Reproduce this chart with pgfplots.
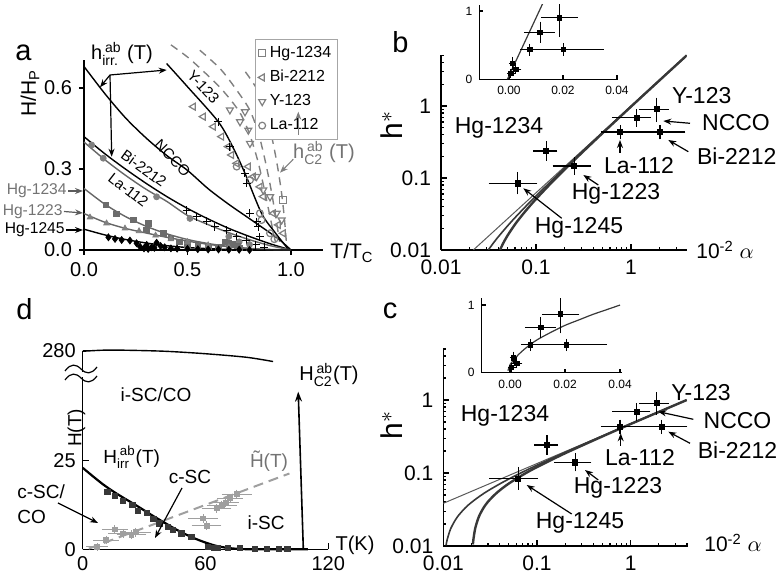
\documentclass[border=0pt]{standalone}
\usepackage{fontspec}
\setmainfont{Liberation Sans}
\usepackage{amsmath}
\usepackage{pgfplots}
\pgfplotsset{compat=1.18}
\usetikzlibrary{arrows.meta}

\definecolor{gt}{gray}{0.45}
\definecolor{gm}{gray}{0.5}
\definecolor{dk}{gray}{0.22}
\newcommand{\fs}[1]{\fontsize{#1}{#1}\selectfont}

\pgfplotsset{
  panel/.style={scale only axis, anchor=south west,
    axis x line*=bottom, axis y line*=left,
    axis line style={-, line width=0.7pt},
    tick style={black, line width=0.6pt},
    /pgf/number format/assume math mode=true,
    tick label style={font=\fs{10}},
    scaled ticks=false},
  logpanel/.style={panel, xmin=0.01, ymin=0.01, ymax=5.1,
    tick align=inside, major tick length=3pt, minor tick length=1.6pt,
    xtick={0.01,0.1,1}, xticklabels={0.01,0.1,1},
    ytick={0.01,0.1,1}, yticklabels={0.01,0.1,1},
    minor xtick={0.02,0.03,0.04,0.05,0.06,0.07,0.08,0.09,0.2,0.3,0.4,0.5,0.6,0.7,0.8,0.9,2,3,4},
    minor ytick={0.02,0.03,0.04,0.05,0.06,0.07,0.08,0.09,0.2,0.3,0.4,0.5,0.6,0.7,0.8,0.9,2,3,4,5},
    tick label style={font=\fs{10.5}},
    xticklabel style={yshift=-1.5pt}, yticklabel style={xshift=-1.5pt}},
  inset/.style={panel, tick align=inside, major tick length=2pt,
    tick label style={font=\fs{6}}, ytick={0,1}, xtick={0,0.02,0.04},
    xticklabels={0.00,0.02,0.04}, ymin=0},
  ebar/.style={only marks, mark=square*, mark size=1.3pt, black,
    error bars/x dir=both, error bars/x explicit, error bars/y dir=both, error bars/y explicit,
    error bars/error bar style={line width=0.6pt, black},
    error bars/error mark options={black, mark size=2pt, line width=0.6pt}},
}
\tikzset{ar/.style={-{Stealth[length=4pt,width=3pt]}, line width=0.6pt}}

\begin{document}
\begin{tikzpicture}
\useasboundingbox (0,0) rectangle (391pt,291pt);

% ---------------- panel a ----------------
\begin{axis}[panel, at={(42pt,166pt)}, width=119.5pt, height=95pt,
  xmin=0, xmax=1.155, ymin=0, ymax=0.704, clip=false,
  xtick={0,0.5,1}, xticklabels={0.0,0.5,1.0},
  ytick={0,0.3,0.6}, yticklabels={0.0,0.3,0.6},
  tick align=outside, major tick length=2.5pt,
  legend style={at={(0.7155,1.1105)}, anchor=north west, draw=gray!70, line width=0.6pt,
    font=\fs{8}, inner sep=1.3pt, row sep=0.9pt},
  legend cell align=left,
  legend image code/.code={\draw[#1,mark repeat=1] plot coordinates {(0.12cm,0cm)};}]
% hc2 dashed curves
\addplot[gm, line width=0.7pt, dash pattern=on 4pt off 3pt, smooth, forget plot] coordinates {
 (0.42,0.76) (0.50,0.715) (0.58,0.66) (0.66,0.60) (0.72,0.545) (0.76,0.50) (0.80,0.43)
 (0.84,0.33) (0.87,0.23) (0.90,0.12) (0.925,0.03)};
\addplot[gm, line width=0.7pt, dash pattern=on 4pt off 3pt, smooth, forget plot] coordinates {
 (0.56,0.74) (0.66,0.67) (0.74,0.59) (0.80,0.52) (0.84,0.44) (0.87,0.35) (0.90,0.24)
 (0.925,0.13) (0.945,0.03)};
\addplot[gm, line width=0.7pt, dash pattern=on 4pt off 3pt, smooth, forget plot] coordinates {
 (0.78,0.66) (0.84,0.59) (0.88,0.50) (0.91,0.41) (0.935,0.31) (0.955,0.21) (0.968,0.12) (0.978,0.03)};
% hc2 data
\addplot[only marks, mark=square, gm, mark size=1.8pt, line width=0.6pt] coordinates {(0.963,0.185)};
\addlegendentry{Hg-1234}
\addplot[only marks, mark=triangle, mark options={rotate=90}, gm, mark size=2pt, line width=0.6pt] coordinates {
 (0.528,0.531) (0.576,0.494) (0.625,0.457) (0.665,0.42) (0.697,0.383) (0.713,0.352) (0.738,0.321)
 (0.794,0.309) (0.818,0.272) (0.85,0.234) (0.866,0.198) (0.915,0.136) (0.939,0.093) (0.963,0.062)};
\addlegendentry{Bi-2212}
\addplot[only marks, mark=triangle, mark options={rotate=180}, gm, mark size=2pt, line width=0.6pt] coordinates {
 (0.705,0.519) (0.778,0.512) (0.754,0.475) (0.794,0.444) (0.802,0.395) (0.834,0.272)
 (0.866,0.222) (0.899,0.197) (0.931,0.136) (0.955,0.111)};
\addlegendentry{Y-123}
\addplot[only marks, mark=o, gm, mark size=1.7pt, line width=0.6pt] coordinates {
 (0.738,0.309) (0.802,0.259) (0.85,0.136) (0.858,0.111) (0.899,0.062) (0.92,0.04)};
\addlegendentry{La-112}
% hirr curves
\addplot[black, line width=0.7pt, smooth, forget plot] coordinates {
 (0.399,0.691) (0.5,0.605) (0.649,0.475) (0.72,0.38) (0.778,0.284) (0.858,0.136) (0.92,0.068) (0.99,0.0)};
\addplot[black, line width=0.7pt, smooth, forget plot] coordinates {
 (0,0.68) (0.1,0.58) (0.2,0.49) (0.3,0.415) (0.4,0.35) (0.5,0.295) (0.6,0.227) (0.7,0.169)
 (0.8,0.116) (0.9,0.063) (0.947,0.037) (1.0,0.0)};
\addplot[black, line width=0.7pt, smooth, forget plot] coordinates {
 (0,0.42) (0.1,0.357) (0.2,0.30) (0.3,0.247) (0.4,0.198) (0.5,0.154) (0.6,0.115) (0.7,0.080)
 (0.8,0.050) (0.9,0.023) (1,0)};
\addplot[gm!80!black, line width=0.7pt, smooth, forget plot] coordinates {
 (0,0.40) (0.1,0.335) (0.2,0.277) (0.3,0.225) (0.4,0.180) (0.5,0.128) (0.6,0.094) (0.7,0.064)
 (0.8,0.038) (0.9,0.016) (1,0)};
\addplot[gm!80!black, line width=0.7pt, smooth, forget plot] coordinates {
 (0,0.228) (0.1,0.170) (0.2,0.124) (0.3,0.088) (0.4,0.060) (0.5,0.039) (0.6,0.024) (0.7,0.013)
 (0.8,0.006) (0.9,0.002) (1,0)};
\addplot[gm!80!black, line width=0.7pt, smooth, forget plot] coordinates {
 (0,0.135) (0.1,0.103) (0.2,0.080) (0.3,0.063) (0.4,0.047) (0.5,0.033) (0.6,0.021) (0.7,0.012)
 (0.8,0.005) (0.9,0.001) (1,0)};
\addplot[black, line width=0.7pt, smooth, forget plot] coordinates {
 (0,0.077) (0.1,0.056) (0.2,0.039) (0.3,0.026) (0.4,0.016) (0.5,0.009) (0.6,0.005) (0.7,0.002)
 (0.85,0.0) (1.0,0)};
% hirr data
\addplot[only marks, mark=+, black, mark size=2pt, line width=0.5pt, forget plot] coordinates {
 (0.649,0.475) (0.705,0.383) (0.778,0.284) (0.786,0.247) (0.802,0.136) (0.834,0.105) (0.842,0.086)
 (0.85,0.049) (0.496,0.148) (0.544,0.123) (0.593,0.106) (0.633,0.086) (0.689,0.074) (0.737,0.049)
 (0.785,0.037) (0.83,0.02) (0.87,0.01)};
\addplot[only marks, mark=*, gm, mark size=1.5pt, forget plot] coordinates {
 (0.037,0.389) (0.093,0.34) (0.351,0.197) (0.512,0.117) (0.70,0.05) (0.75,0.03) (0.80,0.02)};
\addplot[only marks, mark=square*, gm!85!black, mark size=1.4pt, forget plot] coordinates {
 (0.106,0.167) (0.158,0.133) (0.238,0.111) (0.311,0.099) (0.303,0.074) (0.383,0.062) (0.42,0.045)
 (0.46,0.03) (0.5,0.02) (0.55,0.015) (0.6,0.012) (0.65,0.01) (0.68,0.03) (0.70,0.025) (0.72,0.02)
 (0.74,0.015) (0.70,0.01) (0.75,0.008)};
\addplot[only marks, mark=triangle*, gm, mark size=1.6pt, forget plot] coordinates {
 (0.029,0.121) (0.109,0.099) (0.198,0.080) (0.266,0.070) (0.346,0.054) (0.42,0.04) (0.5,0.03)
 (0.6,0.018) (0.7,0.01) (0.8,0.005)};
\addplot[only marks, mark=diamond*, black, mark size=1.7pt, forget plot] coordinates {
 (0.118,0.047) (0.150,0.041) (0.182,0.037) (0.222,0.035) (0.254,0.025) (0.271,0.012) (0.303,0.019)
 (0.327,0.01) (0.351,0.027) (0.37,0.015) (0.29,0.006) (0.31,0.004) (0.34,0.008) (0.39,0.01)
 (0.42,0.006) (0.45,0.005) (0.5,0.004) (0.55,0.003) (0.6,0.002) (0.65,0.002) (0.7,0.001)
 (0.75,0.001) (0.8,0.0)};
\end{axis}

% ---------------- panel b ----------------
\begin{loglogaxis}[logpanel, at={(220.5pt,166pt)}, width=122.85pt, height=97.5pt, xmax=3.86]
\addplot[gray!70!black, line width=0.5pt] coordinates {(0.0219,0.01) (3.86,5.05)};
\addplot[dk, line width=0.8pt, smooth] coordinates {
 (0.0315,0.01) (0.033,0.0109) (0.036,0.01273) (0.04,0.01519) (0.05,0.02148) (0.06,0.02802)
 (0.08,0.04173) (0.1,0.0562) (0.15,0.0949) (0.25,0.1804) (0.5,0.4236) (1,0.9847) (2,2.278) (3.86,5.038)};
\addplot[dk, line width=1.2pt, smooth] coordinates {
 (0.0418,0.01) (0.045,0.0123) (0.05,0.01575) (0.06,0.02257) (0.07,0.0294) (0.08,0.03645)
 (0.1,0.0509) (0.15,0.0895) (0.25,0.1746) (0.5,0.4171) (1,0.9774) (2,2.270) (3.86,5.028)};
\addplot[ebar] coordinates {
 (0.064,0.084) += (0.030,0.023) -= (0.029,0.017)
 (0.128,0.237) += (0.024,0.046) -= (0.025,0.039)
 (0.253,0.147) += (0.089,0.026) -= (0.088,0.021)
 (0.77,0.436) += (0.25,0.044) -= (0.24,0.046)
 (2.02,0.436) += (1.38,0.045) -= (1.0,0.045)
 (1.15,0.69) += (0.31,0.10) -= (0.455,0.11)
 (1.86,0.90) += (0.42,0.25) -= (0.53,0.22)};
\end{loglogaxis}

% inset b
\begin{axis}[inset, at={(239.65pt,251.35pt)}, width=69.5pt, height=37.15pt,
  xmin=-0.011, xmax=0.0405, ymax=1.088]
\addplot[dk, line width=0.6pt] coordinates {(-0.0006,0) (0.0125,1.11)};
\addplot[ebar, mark size=1.1pt, error bars/error mark options={black, mark size=1.5pt, line width=0.5pt},
  error bars/error bar style={line width=0.5pt,black}] coordinates {
 (0.00064,0.084) += (0.0003,0.023) -= (0.0003,0.017)
 (0.00128,0.237) += (0.00024,0.046) -= (0.00025,0.039)
 (0.00253,0.147) += (0.0009,0.026) -= (0.0009,0.021)
 (0.0077,0.436) += (0.0025,0.044) -= (0.0024,0.046)
 (0.0202,0.436) += (0.0138,0.045) -= (0.0100,0.045)
 (0.0115,0.69) += (0.0043,0.11) -= (0.0047,0.11)
 (0.0186,0.90) += (0.0058,0.19) -= (0.0056,0.24)};
\end{axis}

% ---------------- panel c ----------------
\begin{loglogaxis}[logpanel, at={(221.65pt,18pt)}, width=122.2pt, height=98.85pt, xmax=4.06]
\addplot[gray!70!black, line width=0.5pt] coordinates {(0.01,0.0384) (3.96,1.0)};
\addplot[dk, line width=0.8pt, smooth] coordinates {
 (0.0107,0.0102) (0.011,0.0122) (0.012,0.0173) (0.014,0.0246) (0.017,0.0329) (0.02,0.0396)
 (0.025,0.0490) (0.03,0.0571) (0.04,0.0708) (0.05,0.0826) (0.07,0.1027) (0.1,0.1278) (0.2,0.1915)
 (0.5,0.3203) (1,0.471) (2,0.687) (3.96,0.999)};
\addplot[dk, line width=1.2pt, smooth] coordinates {
 (0.0207,0.0105) (0.021,0.01255) (0.022,0.0178) (0.024,0.0253) (0.027,0.0336) (0.03,0.0404)
 (0.035,0.0497) (0.04,0.0578) (0.05,0.0716) (0.07,0.0937) (0.1,0.1205) (0.2,0.1864) (0.5,0.317)
 (1,0.4686) (2,0.6856) (3.96,0.9975)};
\addplot[ebar] coordinates {
 (0.063,0.084) += (0.030,0.023) -= (0.029,0.017)
 (0.128,0.242) += (0.024,0.046) -= (0.025,0.039)
 (0.256,0.140) += (0.089,0.026) -= (0.088,0.021)
 (0.77,0.43) += (0.25,0.044) -= (0.24,0.046)
 (2.14,0.43) += (1.51,0.045) -= (1.12,0.045)
 (1.16,0.69) += (0.31,0.10) -= (0.455,0.11)
 (1.89,0.90) += (0.42,0.23) -= (0.53,0.19)};
\end{loglogaxis}

% inset c
\begin{axis}[inset, at={(240.85pt,104.65pt)}, width=70pt, height=37.2pt,
  xmin=-0.0103, xmax=0.0406, ymax=1.10]
\addplot[dk, line width=0.6pt, smooth] coordinates {
 (-0.0008,0.03) (-0.0003,0.08) (0.0,0.12) (0.001,0.17) (0.002,0.22) (0.003,0.265) (0.005,0.34)
 (0.0075,0.42) (0.01,0.49) (0.015,0.60) (0.02,0.70) (0.025,0.78) (0.03,0.86) (0.035,0.93) (0.04,1.0)};
\addplot[ebar, mark size=1.1pt, error bars/error mark options={black, mark size=1.5pt, line width=0.5pt},
  error bars/error bar style={line width=0.5pt,black}] coordinates {
 (0.0006,0.074) += (0.0003,0.023) -= (0.0003,0.017)
 (0.0013,0.22) += (0.00024,0.046) -= (0.00025,0.039)
 (0.0025,0.14) += (0.0009,0.026) -= (0.0009,0.021)
 (0.0075,0.41) += (0.0025,0.044) -= (0.0024,0.046)
 (0.0204,0.41) += (0.0138,0.045) -= (0.0100,0.045)
 (0.0112,0.67) += (0.0043,0.11) -= (0.0047,0.11)
 (0.0183,0.867) += (0.0058,0.23) -= (0.0056,0.24)};
\end{axis}

% ---------------- panel d ----------------
\begin{axis}[panel, at={(41.35pt,16.35pt)}, width=122.8pt, height=99.2pt,
  xmin=0, xmax=120, ymin=0, ymax=56, clip=false,
  xtick={0,60,120}, ytick={0,25,56}, yticklabels={0,25,280},
  tick align=inside, major tick length=3pt]
\addplot[gm!75, line width=1pt, dash pattern=on 5pt off 3pt] coordinates {(3,0.2) (101,21.4)};
\addplot[only marks, mark=square*, gm!75, mark size=1.2pt,
  error bars/x dir=both, error bars/x explicit, error bars/y dir=both, error bars/y explicit,
  error bars/error bar style={line width=0.5pt, gm!75},
  error bars/error mark options={gm!75, mark size=1.3pt, line width=0.5pt}] coordinates {
 (7,0.7) +- (4,0.4) (11.4,2.6) +- (5,0.5) (15.7,5.6) +- (5,0.5) (19.7,4.5) +- (6,0.5)
 (23.8,4.1) +- (6,0.5) (26,4.8) +- (6,0.5) (58.8,8.7) +- (6,0.5) (60.5,6.7) +- (6,0.5)
 (65.4,11.6) +- (6,0.5) (67.9,12.5) +- (6,0.5) (70,13.2) +- (5,0.5) (72,14.4) +- (5,0.5)
 (75.3,15.6) +- (6,0.5)};
\addplot[black, line width=1.1pt, smooth] coordinates {
 (0,23) (5,20.6) (10,18.3) (15,16.3) (20,14.5) (25,12.8) (30,11.0) (35,9.2) (40,7.5) (45,5.8)
 (50,4.3) (55,3.0) (60,1.9) (65,1.0) (70,0.45) (75,0.15) (80,0.03) (90,0) (100,0) (110,0)};
\addplot[only marks, mark=square*, dk, mark size=1.3pt] coordinates {
 (12.1,16.1) (15.7,15.1) (19.7,13.6) (24.3,12.5) (27.1,10.9) (31.2,10.2) (34.5,8.6) (37.5,7.3)
 (41.6,6.4) (44.1,5.4) (48.2,4.5) (53.1,3.4) (61.3,0.7) (64,0.5) (66,0.4) (71,0.3) (77,0.3)
 (84,0.2) (90,0.1) (96,0.1) (100,0.1)};
\addplot[black, line width=0.7pt, smooth] coordinates {
 (0,55.9) (10,56.2) (20,56.2) (40,55.9) (60,55.2) (80,54.2) (93,53.0)};
\addplot[black, line width=0.8pt, -{Stealth[length=5pt,width=3.5pt]}] coordinates {(107.8,0) (105.3,44.5)};
\end{axis}

% ---------------- annotations (pixel coordinates) ----------------
\begin{scope}[shift={(0pt,291pt)}, x=0.5pt, y=-0.5pt]
% panel letters
\node[font=\fs{14.5}] at (23.5,53) {a};
\node[font=\fs{14.5}] at (400.5,42) {b};
\node[font=\fs{14.5}] at (390,311) {c};
\node[font=\fs{14.5}] at (24.5,309) {d};
% panel a
\node[font=\fs{10.5}, rotate=90] at (30,93) {H/H$_{\text{P}}$};
\node[font=\fs{10.5}] at (352,253) {T/T$_{\text{C}}$};
\node[font=\fs{10}] at (122,54) {h$_{\text{irr.}}^{\,\text{ab}}$ (T)};
\draw[ar] (110,75) -- (100,87.3);
\draw[ar] (110,75) -- (166.7,70);
\draw[ar] (110,75) -- (111.7,156.7);
\node[font=\fs{7.5}, rotate=-47] at (203.3,86.7) {Y-123};
\node[font=\fs{7.5}, rotate=-46] at (172.7,158.3) {NCCO};
\node[font=\fs{7.5}, rotate=-36] at (144,168.3) {Bi-2212};
\node[font=\fs{7.5}, rotate=-38] at (128.3,190) {La-112};
\node[font=\fs{7.8}, text=gt, anchor=east, inner sep=0pt] at (67,191) {Hg-1234};
\draw[ar, gt!80!black] (68,191) -- (83,191);
\node[font=\fs{7.8}, text=gt, anchor=east, inner sep=0pt] at (63,211.5) {Hg-1223};
\draw[ar, gt!80!black] (64,211.5) -- (83,213);
\node[font=\fs{7.8}, anchor=east, inner sep=0pt] at (65,230) {Hg-1245};
\draw[ar] (66,230) -- (83,230);
\node[font=\fs{10}, text=gt] at (324,153) {h$_{\text{C2}}^{\,\text{ab}}$ (T)};
\draw[ar, gm] (298.3,135) -- (298.3,111.7);
\draw[ar, gm] (293.3,159.3) -- (280,172.7);
% panel b
\node[font=\fs{15}, rotate=90] at (392,125) {h$^{*}$};
\node[font=\fs{10.5}] at (725,250) {10\textsuperscript{-2} $\alpha$};
\node[font=\fs{11.5}] at (499,127.5) {Hg-1234};
\node[font=\fs{11.5}] at (616,194) {Hg-1223};
\node[font=\fs{11.5}] at (579,228) {Hg-1245};
\node[font=\fs{11.5}] at (639,166) {La-112};
\node[font=\fs{11.5}] at (736.7,156) {Bi-2212};
\node[font=\fs{11.5}] at (736,123) {NCCO};
\node[font=\fs{11.5}] at (701.7,96) {Y-123};
\draw[ar] (598.3,185) -- (583.3,175);
\draw[ar] (561.7,218.3) -- (523.3,188.3);
\draw[ar] (620,153) -- (620,140);
\draw[ar] (690,123.3) -- (663.3,121);
\draw[ar] (688.3,151.7) -- (668.3,140);
% panel c
\node[font=\fs{15}, rotate=90] at (392,425) {h$^{*}$};
\node[font=\fs{10.5}] at (733,543) {10\textsuperscript{-2} $\alpha$};
\node[font=\fs{11.5}] at (505,416) {Hg-1234};
\node[font=\fs{11.5}] at (618,488) {Hg-1223};
\node[font=\fs{11.5}] at (580,523) {Hg-1245};
\node[font=\fs{11.5}] at (640,458) {La-112};
\node[font=\fs{11.5}] at (737.5,450) {Bi-2212};
\node[font=\fs{11.5}] at (737.5,421) {NCCO};
\node[font=\fs{11.5}] at (701,392.5) {Y-123};
\draw[ar] (598.3,480) -- (585,470);
\draw[ar] (571.7,514) -- (526.7,485);
\draw[ar] (620.7,446) -- (620.7,433.3);
\draw[ar] (693.3,419.3) -- (658.3,411.7);
\draw[ar] (690,443.3) -- (668.3,431.7);
% panel d
\fill[white] (78,372) rectangle (88,377);
\draw[line width=0.6pt] (65,371) .. controls (71,363) and (76,364) .. (81,369) .. controls (86,374) and (91,375) .. (97,367);
\draw[line width=0.6pt] (65,380) .. controls (71,372) and (76,373) .. (81,378) .. controls (86,383) and (91,384) .. (97,376);
\node[font=\fs{9.5}] at (156,395) {i-SC/CO};
\node[font=\fs{9.5}, rotate=90] at (76.5,428) {H(T)};
\node[font=\fs{9.5}] at (131.7,457) {H$_{\text{irr}}^{\,\text{ab}}$(T)};
\node[font=\fs{9.5}, text=gt] at (269,461) {\~{H}(T)};
\node[font=\fs{9.5}] at (190,477) {c-SC};
\node[font=\fs{9.5}, anchor=west, inner sep=0pt] at (17,492) {c-SC/};
\node[font=\fs{9.5}, anchor=west, inner sep=0pt] at (17,517) {CO};
\draw[ar] (58,503) -- (98,523);
\draw[ar] (182,488) -- (155,538);
\node[font=\fs{9.5}] at (266,523) {i-SC};
\node[font=\fs{10}] at (329,375) {H$_{\text{C2}}^{\,\text{ab}}$(T)};
\node[font=\fs{10}] at (355,545) {T(K)};
\end{scope}
\end{tikzpicture}
\end{document}
